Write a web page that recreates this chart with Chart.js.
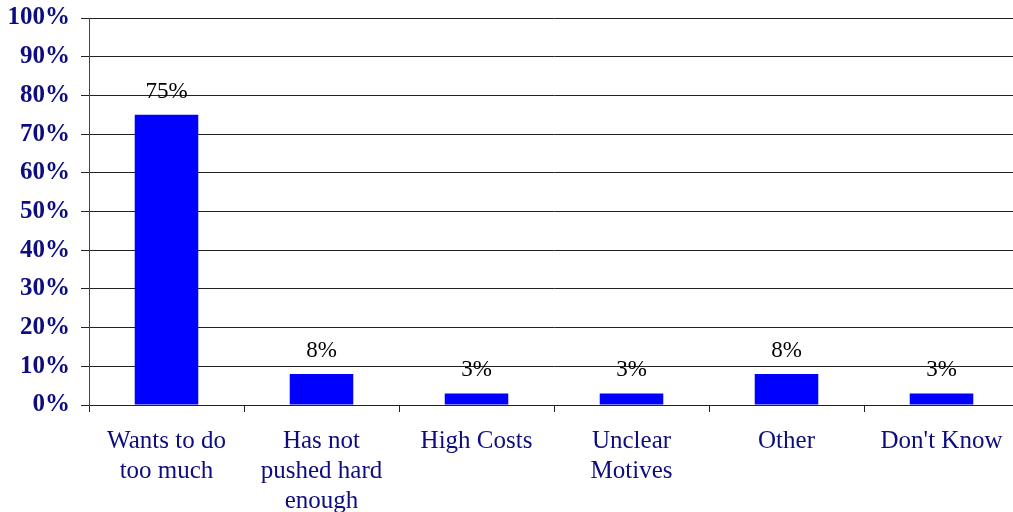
<!DOCTYPE html>
<html>
<head>
<meta charset="utf-8">
<script src="https://cdn.jsdelivr.net/npm/chart.js@4/dist/chart.umd.min.js"></script>
<style>
  html, body { margin: 0; padding: 0; background: #fff; overflow: hidden; }
  #wrap { width: 1020px; height: 512px; position: relative; }
</style>
</head>
<body>
<div id="wrap"><canvas id="c"></canvas></div>
<script>
const categories = [
  ["Wants to do", "too much"],
  ["Has not", "pushed hard", "enough"],
  "High Costs",
  ["Unclear", "Motives"],
  "Other",
  "Don't Know"
];
const values = [75, 8, 3, 3, 8, 3];
const valueLabels = ["75%", "8%", "3%", "3%", "8%", "3%"];
const yTicks = [0, 10, 20, 30, 40, 50, 60, 70, 80, 90, 100];

const valueLabelPlugin = {
  id: 'valueLabels',
  afterDatasetsDraw(chart) {
    const ctx = chart.ctx;
    const meta = chart.getDatasetMeta(0);
    ctx.save();
    ctx.font = '23px "Liberation Serif", "Times New Roman", serif';
    ctx.fillStyle = '#000';
    ctx.textAlign = 'center';
    ctx.textBaseline = 'middle';
    meta.data.forEach((bar, i) => {
      ctx.fillText(valueLabels[i], bar.x, bar.y - 23);
    });
    ctx.restore();
  }
};

new Chart(document.getElementById('c'), {
  type: 'bar',
  data: {
    labels: categories,
    datasets: [{
      data: values,
      backgroundColor: '#0000FF',
      borderWidth: 0,
      categoryPercentage: 1,
      barPercentage: 0.41
    }]
  },
  options: {
    responsive: true,
    maintainAspectRatio: false,
    animation: false,
    layout: { padding: { top: 18, right: 1, left: 0, bottom: 0 } },
    plugins: { legend: { display: false }, tooltip: { enabled: false } },
    scales: {
      x: {
        grid: { display: true, drawOnChartArea: false, offset: true, tickLength: 7, color: '#222', lineWidth: 1 },
        border: { display: true, color: '#222', width: 1 },
        ticks: {
          color: '#0d0d80',
          font: { family: '"Liberation Serif", "Times New Roman", serif', size: 25, lineHeight: 1.2 },
          padding: 14,
          maxRotation: 0,
          minRotation: 0,
          autoSkip: false
        },
        afterFit(scale) { scale.height = 107; scale.paddingLeft = 0; scale.paddingRight = 0; }
      },
      y: {
        min: 0,
        max: 100,
        afterBuildTicks(scale) { scale.ticks = yTicks.map(v => ({ value: v })); },
        grid: { color: '#222', lineWidth: 1, tickLength: 8 },
        border: { display: true, color: '#444', width: 1 },
        ticks: {
          color: '#0d0d80',
          font: { family: '"Liberation Serif", "Times New Roman", serif', size: 25, weight: 'bold' },
          padding: 11,
          callback: v => v + '%'
        },
        afterFit(scale) { scale.width = 89; scale.paddingTop = 0; scale.paddingBottom = 0; }
      }
    }
  },
  plugins: [valueLabelPlugin]
});
</script>
</body>
</html>
